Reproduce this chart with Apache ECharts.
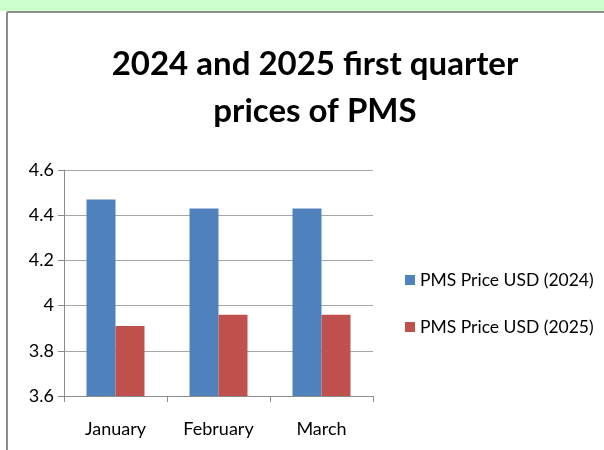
<!DOCTYPE html>
<html>
<head>
<meta charset="utf-8">
<script src="https://cdn.jsdelivr.net/npm/echarts@6/dist/echarts.min.js"></script>
<style>
  html, body { margin: 0; padding: 0; background: #fff; }
  #chart { width: 604px; height: 450px; }
</style>
</head>
<body>
<div id="chart"></div>
<script>
var months = ['January', 'February', 'March'];
var price2024 = [4.47, 4.43, 4.43];
var price2025 = [3.91, 3.96, 3.96];
var legendNames = ['PMS Price USD (2024)', 'PMS Price USD (2025)'];
var yTicks = [3.6, 3.8, 4, 4.2, 4.4, 4.6];

var myChart = echarts.init(document.getElementById('chart'));
myChart.setOption({
    animation: false,
    textStyle: { fontFamily: 'Lato' },
    graphic: [
        // green strip and the sheet border round the chart
        { type: 'rect', shape: { x: 0, y: 0, width: 604, height: 11 }, style: { fill: '#ccffcc' } },
        { type: 'line', shape: { x1: 7, y1: 12, x2: 604, y2: 12 }, style: { stroke: '#8c8c8c', lineWidth: 2 } },
        { type: 'line', shape: { x1: 7, y1: 12, x2: 7, y2: 450 }, style: { stroke: '#8c8c8c', lineWidth: 2 } }
    ],
    title: {
        text: '2024 and 2025 first quarter\nprices of PMS',
        left: 310,
        top: 36,
        textAlign: 'center',
        textStyle: {
            fontFamily: 'Lato',
            fontWeight: 'bold',
            fontSize: 33,
            lineHeight: 47,
            color: '#000'
        }
    },
    legend: {
        orient: 'vertical',
        left: 400,
        top: 266,
        itemWidth: 10,
        itemHeight: 10,
        itemGap: 29,
        icon: 'rect',
        data: legendNames,
        textStyle: { fontSize: 17.5, color: '#000', fontFamily: 'Lato' }
    },
    grid: { left: 64, right: 231, top: 170, bottom: 54 },
    xAxis: {
        type: 'category',
        data: months,
        axisLine: { lineStyle: { color: '#8c8c8c' } },
        axisTick: { show: true, length: 6, lineStyle: { color: '#8c8c8c' } },
        axisLabel: { fontSize: 18, color: '#000', margin: 24 }
    },
    yAxis: {
        type: 'value',
        min: yTicks[0],
        max: yTicks[yTicks.length - 1],
        interval: 0.2,
        axisLine: { show: true, lineStyle: { color: '#8c8c8c' } },
        axisTick: { show: true, length: 6, lineStyle: { color: '#8c8c8c' } },
        axisLabel: {
            fontSize: 18,
            color: '#000',
            margin: 10,
            formatter: function (v) { return String(Math.round(v * 10) / 10); }
        },
        splitLine: { lineStyle: { color: '#a6a6a6' } }
    },
    series: [
        {
            name: legendNames[0],
            type: 'bar',
            data: price2024,
            barWidth: 29,
            barGap: '0%',
            itemStyle: { color: '#4f81bd' }
        },
        {
            name: legendNames[1],
            type: 'bar',
            data: price2025,
            barWidth: 29,
            itemStyle: { color: '#c0504d' }
        }
    ]
});
</script>
</body>
</html>
